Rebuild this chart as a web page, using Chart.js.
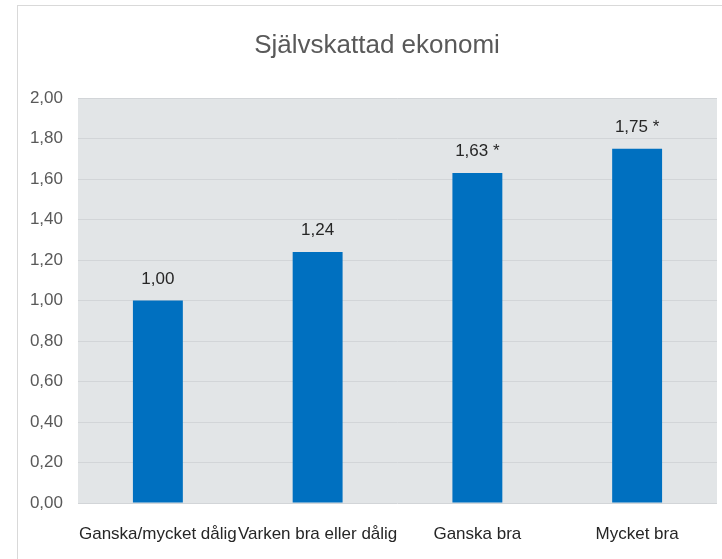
<!DOCTYPE html>
<html>
<head>
<meta charset="utf-8">
<script src="https://cdn.jsdelivr.net/npm/chart.js@4/dist/chart.umd.min.js"></script>
<style>
    html, body { margin: 0; padding: 0; background: #ffffff; }
    #wrap { position: relative; width: 722px; height: 559px; overflow: hidden; }
    #frame { position: absolute; left: 17px; top: 5px; width: 740px; height: 600px; border: 1px solid #d9d9d9; }
    canvas { position: absolute; left: 0; top: 0; }
</style>
</head>
<body>
<div id="wrap">
    <div id="frame"></div>
    <canvas id="chart" width="722" height="559"></canvas>
</div>
<script>
// ============================================
// DATA
// ============================================
const chartTitle = 'Självskattad ekonomi';
const categories = ['Ganska/mycket dålig', 'Varken bra eller dålig', 'Ganska bra', 'Mycket bra'];
const values = [1.00, 1.24, 1.63, 1.75];
const valueLabels = ['1,00', '1,24', '1,63 *', '1,75 *'];

const FONT = "'Liberation Sans Narrow', 'Liberation Sans', sans-serif";

// Plot background, title (centred on the outer frame) and bar value labels
const plotBackground = {
    id: 'plotBackground',
    beforeDraw(chart) {
        const { ctx, chartArea } = chart;
        ctx.save();
        ctx.fillStyle = '#e2e5e7';
        ctx.fillRect(chartArea.left, chartArea.top, chartArea.width, chartArea.height);
        ctx.font = '26px ' + FONT;
        ctx.fillStyle = '#595959';
        ctx.textAlign = 'center';
        ctx.textBaseline = 'middle';
        ctx.fillText(chartTitle, 377, 46);
        ctx.restore();
    }
};

const valueLabelPlugin = {
    id: 'valueLabels',
    afterDatasetsDraw(chart) {
        const { ctx } = chart;
        const meta = chart.getDatasetMeta(0);
        ctx.save();
        ctx.font = '17px ' + FONT;
        ctx.fillStyle = '#262626';
        ctx.textAlign = 'center';
        ctx.textBaseline = 'bottom';
        meta.data.forEach((bar, i) => {
            ctx.fillText(valueLabels[i], bar.x, bar.y - 13);
        });
        ctx.restore();
    }
};

new Chart(document.getElementById('chart'), {
    type: 'bar',
    data: {
        labels: categories,
        datasets: [{
            data: values,
            backgroundColor: '#0070c0',
            borderWidth: 0,
            categoryPercentage: 1,
            barPercentage: 0.3125
        }]
    },
    options: {
        responsive: false,
        animation: false,
        layout: { padding: { left: 0, right: 5, top: 98, bottom: 0 } },
        plugins: {
            legend: { display: false },
            tooltip: { enabled: false },
            title: { display: false }
        },
        scales: {
            x: {
                grid: { display: false },
                border: { display: false },
                ticks: {
                    color: '#262626',
                    font: { family: FONT, size: 17 },
                    padding: 13,
                    maxRotation: 0,
                    autoSkip: false
                },
                afterFit(scale) { scale.height = 56; }
            },
            y: {
                min: 0,
                max: 2,
                border: { display: false },
                grid: { color: '#d2d5d8', lineWidth: 1, drawTicks: false },
                ticks: {
                    stepSize: 0.2,
                    color: '#595959',
                    font: { family: FONT, size: 17 },
                    padding: 15,
                    callback: (v) => v.toFixed(2).replace('.', ',')
                },
                afterFit(scale) { scale.width = 78; }
            }
        }
    },
    plugins: [plotBackground, valueLabelPlugin]
});
</script>
</body>
</html>
